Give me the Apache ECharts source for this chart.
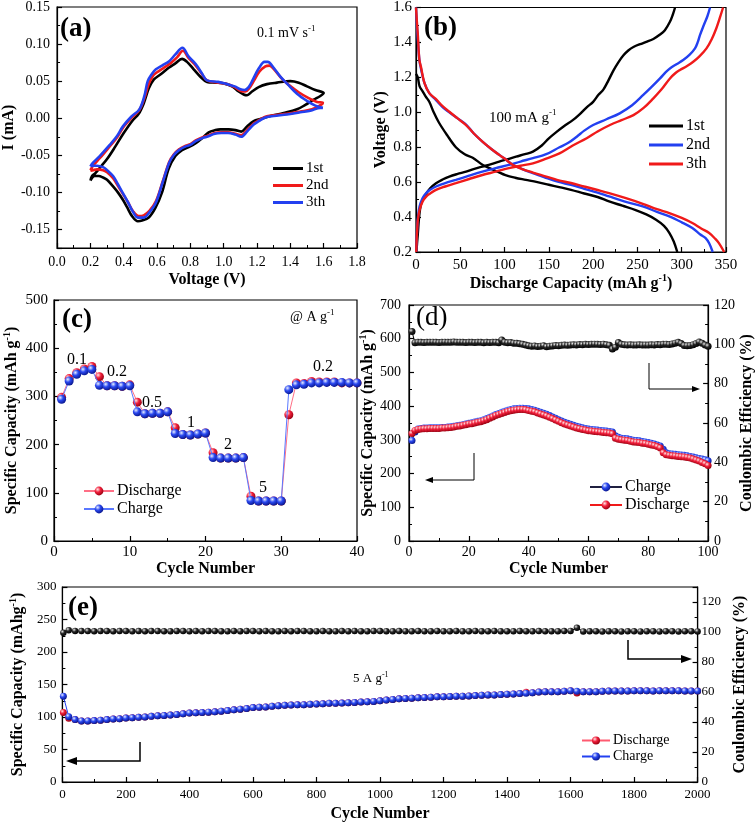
<!DOCTYPE html>
<html><head><meta charset="utf-8">
<script src="https://cdn.jsdelivr.net/npm/echarts/dist/echarts.min.js"></script>
<style>html,body{margin:0;padding:0;background:#fff}#c{width:756px;height:824px}</style>
</head><body><div id="c"></div><script>
// ---------- (a) CV curves [V, mA] ----------
const cv1st = [[0.20,-0.084],[0.21,-0.078],[0.23,-0.074],[0.26,-0.066],[0.30,-0.055],[0.35,-0.038],[0.40,-0.020],[0.45,-0.004],[0.49,0.006],[0.52,0.020],[0.55,0.040],[0.58,0.052],[0.62,0.059],[0.67,0.068],[0.71,0.074],[0.75,0.080],[0.78,0.076],[0.82,0.066],[0.86,0.056],[0.90,0.049],[0.95,0.048],[1.00,0.047],[1.05,0.043],[1.09,0.036],[1.12,0.032],[1.14,0.031],[1.17,0.036],[1.21,0.042],[1.26,0.046],[1.32,0.048],[1.40,0.050],[1.45,0.048],[1.50,0.043],[1.55,0.038],[1.60,0.034],
  [1.58,0.030],[1.54,0.025],[1.49,0.018],[1.44,0.012],[1.36,0.007],[1.28,0.003],[1.22,-0.001],[1.18,-0.004],[1.14,-0.011],[1.105,-0.018],[1.07,-0.016],[1.03,-0.015],[0.98,-0.015],[0.95,-0.016],[0.91,-0.019],[0.87,-0.027],[0.83,-0.034],[0.79,-0.039],[0.75,-0.043],[0.71,-0.051],[0.67,-0.068],[0.63,-0.100],[0.59,-0.121],[0.55,-0.134],[0.51,-0.138],[0.485,-0.139],[0.45,-0.132],[0.42,-0.120],[0.395,-0.110],[0.365,-0.100],[0.336,-0.092],[0.30,-0.083],[0.276,-0.080],[0.25,-0.078],[0.226,-0.078],[0.20,-0.084]];
const cv2nd = [[0.20,-0.070],[0.216,-0.064],[0.256,-0.054],[0.316,-0.038],[0.36,-0.026],[0.395,-0.013],[0.445,0.000],[0.494,0.011],[0.524,0.027],[0.55,0.046],[0.575,0.057],[0.60,0.062],[0.64,0.068],[0.68,0.074],[0.72,0.082],[0.755,0.091],[0.79,0.081],[0.832,0.071],[0.868,0.060],[0.90,0.051],[0.967,0.048],[1.02,0.046],[1.066,0.042],[1.10,0.037],[1.13,0.036],[1.155,0.041],[1.18,0.050],[1.215,0.063],[1.25,0.070],[1.274,0.071],[1.31,0.064],[1.35,0.053],[1.39,0.045],[1.45,0.035],[1.51,0.027],[1.56,0.022],[1.595,0.021],
  [1.59,0.019],[1.53,0.012],[1.46,0.009],[1.38,0.006],[1.30,0.004],[1.25,0.002],[1.21,-0.003],[1.18,-0.007],[1.14,-0.016],[1.105,-0.023],[1.07,-0.021],[1.026,-0.019],[0.986,-0.019],[0.946,-0.020],[0.90,-0.024],[0.881,-0.025],[0.832,-0.030],[0.80,-0.035],[0.772,-0.037],[0.732,-0.042],[0.70,-0.049],[0.673,-0.059],[0.633,-0.086],[0.593,-0.112],[0.554,-0.125],[0.52,-0.131],[0.49,-0.132],[0.455,-0.125],[0.425,-0.113],[0.395,-0.102],[0.365,-0.091],[0.336,-0.081],[0.30,-0.073],[0.276,-0.070],[0.24,-0.069],[0.216,-0.070],[0.20,-0.071]];
const cv3th = [[0.20,-0.065],[0.216,-0.060],[0.256,-0.051],[0.316,-0.036],[0.36,-0.024],[0.395,-0.011],[0.445,0.002],[0.494,0.012],[0.524,0.030],[0.544,0.050],[0.57,0.060],[0.593,0.066],[0.63,0.071],[0.673,0.077],[0.71,0.086],[0.752,0.095],[0.79,0.083],[0.832,0.073],[0.868,0.061],[0.90,0.051],[0.967,0.049],[1.02,0.046],[1.066,0.043],[1.10,0.039],[1.125,0.038],[1.15,0.042],[1.175,0.052],[1.21,0.067],[1.245,0.076],[1.264,0.076],[1.30,0.068],[1.34,0.056],[1.383,0.046],[1.44,0.033],[1.502,0.023],[1.55,0.017],[1.595,0.014],
  [1.58,0.014],[1.52,0.010],[1.46,0.008],[1.38,0.005],[1.30,0.003],[1.25,0.001],[1.21,-0.004],[1.18,-0.0085],[1.14,-0.018],[1.105,-0.025],[1.07,-0.022],[1.026,-0.020],[0.986,-0.020],[0.946,-0.021],[0.90,-0.025],[0.881,-0.026],[0.832,-0.031],[0.80,-0.036],[0.772,-0.038],[0.732,-0.043],[0.70,-0.050],[0.673,-0.060],[0.633,-0.087],[0.593,-0.114],[0.554,-0.127],[0.52,-0.134],[0.485,-0.134],[0.455,-0.126],[0.425,-0.113],[0.395,-0.101],[0.365,-0.089],[0.336,-0.078],[0.30,-0.070],[0.276,-0.066],[0.24,-0.064],[0.216,-0.064],[0.20,-0.065]];

// ---------- (b) charge/discharge profiles [mAh/g, V] ----------
const dis1st = [[0,1.22],[2,1.20],[4,1.15],[7.5,1.12],[11,1.09],[15,1.06],[20,1.00],[26,0.94],[35,0.87],[45,0.80],[55,0.76],[64,0.74],[75,0.70],[83,0.68],[92,0.66],[101,0.64],[112,0.625],[124,0.613],[137,0.60],[150,0.585],[163,0.57],[175,0.556],[190,0.535],[205,0.515],[218,0.49],[233,0.465],[248,0.44],[260,0.415],[271,0.385],[280,0.35],[286,0.31],[291,0.26],[295,0.2]];
const chg1st = [[0.5,0.2],[1.2,0.25],[2,0.30],[3.7,0.41],[6,0.48],[11,0.53],[16,0.565],[22.6,0.594],[30,0.615],[37.6,0.632],[47,0.647],[56.5,0.66],[65,0.675],[75,0.689],[85,0.703],[94,0.718],[104,0.732],[113,0.746],[123,0.76],[132,0.775],[142,0.81],[150,0.851],[158,0.885],[167,0.92],[177,0.955],[185,0.99],[193,1.03],[200,1.06],[206,1.10],[211.5,1.13],[217,1.18],[223,1.24],[229,1.29],[234,1.325],[240,1.355],[246,1.375],[253,1.39],[260,1.403],[268,1.42],[275.5,1.445],[281,1.47],[286.7,1.518],[290,1.56],[292.5,1.6]];
const dis2nd = [[0,1.6],[1,1.5],[2,1.42],[3.8,1.30],[5.6,1.25],[9.4,1.17],[15,1.11],[22.6,1.07],[30,1.03],[37.6,1.00],[47,0.965],[56.5,0.93],[65,0.88],[75,0.832],[85,0.79],[94,0.756],[100,0.735],[109,0.70],[120,0.675],[132,0.651],[145,0.628],[160,0.603],[175,0.584],[190,0.562],[205,0.54],[218,0.518],[235,0.49],[256,0.461],[272,0.43],[286,0.404],[300,0.37],[312,0.337],[321,0.30],[327,0.28],[331,0.25],[335,0.2]];
const chg2nd = [[0.3,0.2],[0.8,0.28],[1.5,0.35],[2,0.39],[4,0.46],[7.5,0.509],[12,0.54],[16,0.556],[22.6,0.575],[33,0.595],[45,0.613],[60,0.637],[75,0.66],[90,0.68],[105,0.699],[118,0.718],[132,0.737],[147,0.76],[162,0.80],[172,0.825],[181.5,0.86],[190,0.895],[200,0.927],[215,0.96],[230,0.994],[244,1.04],[256.6,1.099],[266,1.145],[275.5,1.194],[282,1.23],[286.7,1.251],[294,1.275],[301.7,1.299],[309,1.33],[315,1.366],[318,1.4],[320.6,1.442],[325,1.5],[329,1.55],[332,1.6]];
const dis3th = [[0,1.6],[1,1.52],[2,1.45],[3.8,1.30],[5.6,1.26],[9.4,1.17],[15,1.11],[22.6,1.075],[30,1.035],[37.6,1.003],[47,0.965],[56.5,0.927],[65,0.88],[75,0.832],[85,0.79],[94,0.756],[100,0.735],[109,0.70],[120,0.675],[132,0.655],[145,0.635],[160,0.612],[175,0.595],[190,0.575],[205,0.555],[218,0.537],[237,0.508],[256,0.476],[272,0.445],[286,0.423],[300,0.395],[312,0.366],[322,0.335],[331,0.309],[338,0.275],[342,0.251],[348,0.2]];
const chg3th = [[0.3,0.2],[0.8,0.28],[1.5,0.34],[2,0.38],[4,0.44],[7.5,0.49],[12,0.52],[16,0.535],[22.6,0.556],[33,0.575],[45,0.594],[60,0.618],[75,0.641],[90,0.66],[105,0.68],[118,0.694],[132,0.708],[147,0.735],[162,0.765],[177,0.81],[192.7,0.851],[205,0.89],[219,0.927],[232,0.955],[245.5,0.984],[257,1.025],[268,1.08],[277,1.13],[286.7,1.194],[293,1.225],[298,1.242],[306,1.265],[313,1.289],[320,1.32],[328,1.366],[334,1.42],[339,1.48],[343,1.54],[346.7,1.6]];

// ---------- (c) rate performance ----------
const cycC = [1,2,3,4,5,6,7,8,9,10,11,12,13,14,15,16,17,18,19,20,21,22,23,24,25,26,27,28,29,30,31,32,33,34,35,36,37,38,39,40];
const disC = [298,337,349,357,362,341,322,322,321,324,288,264,265,265,268,235,221,220,222,224,183,172,172,172,173,93,83,83,83,83,262,328,327,331,330,330,330,328,328,328];
const chgC = [294,332,346,353,356,323,322,322,321,322,268,264,265,265,268,223,221,220,222,224,173,172,172,172,173,84,83,83,83,83,314,324,325,328,328,329,329,329,328,328];
const rateLabels = ['0.1','0.2','0.5','1','2','5','0.2'];

// ---------- (d) cycling at 100 mA/g ----------
const cycD = [1,2,3,4,5,6,7,8,9,10,11,12,13,14,15,16,17,18,19,20,21,22,23,24,25,26,27,28,29,30,31,32,33,34,35,36,37,38,39,40,41,42,43,44,45,46,47,48,49,50,51,52,53,54,55,56,57,58,59,60,61,62,63,64,65,66,67,68,69,70,71,72,73,74,75,76,77,78,79,80,81,82,83,84,85,86,87,88,89,90,91,92,93,94,95,96,97,98,99,100];
const disD = [319,328,331,332,333,333,334,334,334,334,335,335,336,337,338,340,341,343,345,347,348,350,352,354,357,360,364,368,372,375,378,381,384,386,388,389,390,390,389,387,385,383,380,377,374,371,367,363,359,355,351,347,344,341,338,335,333,331,329,327,326,325,324,323,322,321,320,318,305,302,300,299,298,296,294,293,292,290,289,287,285,283,280,276,262,256,254,253,252,251,250,249,248,246,243,240,237,233,229,224];
const chgD = [298,323,332,334,335,335,336,336,336,336,337,337,338,339,340,342,343,345,347,349,351,353,355,357,360,363,367,371,375,378,382,385,388,390,392,393,394,394,393,392,390,388,385,382,379,376,372,368,364,360,356,352,349,346,343,340,338,336,334,332,331,330,329,328,327,326,325,323,312,308,305,304,303,301,299,298,297,295,294,292,290,288,285,282,272,262,259,258,257,256,255,254,253,251,249,247,245,243,241,238];
const ceD = [106.5,100.8,101.0,101.0,100.9,101.0,101.0,101.1,101.0,100.9,101.0,101.1,101.0,101.0,101.2,101.0,101.1,101.0,100.9,101.0,101.0,100.9,101.0,101.0,100.8,101.0,100.9,101.0,101.0,100.8,102.2,101.0,100.8,100.9,100.6,100.5,100.3,100.0,99.6,99.3,99.0,99.2,98.9,99.0,99.3,98.8,99.0,99.2,99.4,99.3,99.5,99.6,99.5,99.7,99.8,99.7,99.9,99.8,100.0,99.9,100.0,100.1,100.0,99.9,100.1,99.8,99.5,97.6,98.5,100.9,100.0,99.8,99.7,99.8,99.6,99.7,99.8,99.6,99.7,99.6,99.8,99.7,99.9,99.8,100.0,100.1,99.9,100.2,100.6,101.0,100.4,99.4,99.3,99.4,99.8,100.4,101.2,100.6,99.6,99.0];

// ---------- (e) long cycling at 5 A/g ----------
const cycE = [3,20,40,60,80,100,120,140,160,180,200,220,240,260,280,300,320,340,360,380,400,420,440,460,480,500,520,540,560,580,600,620,640,660,680,700,720,740,760,780,800,820,840,860,880,900,920,940,960,980,1000,1020,1040,1060,1080,1100,1120,1140,1160,1180,1200,1220,1240,1260,1280,1300,1320,1340,1360,1380,1400,1420,1440,1460,1480,1500,1520,1540,1560,1580,1600,1620,1640,1660,1680,1700,1720,1740,1760,1780,1800,1820,1840,1860,1880,1900,1920,1940,1960,1980,2000];
const chgE = [132,100.5,96,94,94,94.5,95,96,97,97.5,98.5,99,99.5,100,101,102,102.5,103,104,105,106,106.5,107,107.5,108,109,110,111,112,113,114.5,115,115.5,116.5,117.5,118,118.5,119,119,119.5,120,120.5,121,121,121.5,122,122.5,123,123.5,124,125,126,127,128,128.5,129,129.5,130,130.5,131,131,131.5,132,132,132.5,133,133.5,134,134,134.5,135,135.5,136,136.5,137.5,138.5,139,139,139,139.5,140.5,139.5,139,139,139,139.5,140,140,140,140,140.5,140.5,140.5,140,140.5,140.5,140.5,140.5,140,140,140];
const disE = [107,98,96,94,94,94.5,95,96,97,97.5,98.5,99,99.5,100,101,102,102.5,103,104,105,106,106.5,107,107.5,108,109,110,111,112,113,114.5,115,115.5,116.5,117.5,118,118.5,119,119,119.5,120,120.5,121,121,121.5,122,122.5,123,123.5,124,125,126,127,128,128.5,129,129.5,130,130.5,131,131,131.5,132,132,132.5,133,133.5,134,134,134.5,135,135.5,136,138,137.5,138.5,139,139,139,139.5,140.5,137,139,139,139,139.5,140,140,140,140,140.5,140.5,140.5,140,140.5,140.5,140.5,140.5,140,140,140];
const ceE = [99.5,101.2,100.7,100.6,100.6,100.5,100.6,100.6,100.5,100.6,
 100.6,100.5,100.6,100.5,100.6,100.6,100.5,100.5,100.6,100.6,
 100.5,100.6,100.5,100.6,100.6,100.5,100.5,100.6,100.5,100.6,
 100.6,100.5,100.6,100.5,100.5,100.6,100.5,100.6,100.6,100.5,
 100.5,100.6,100.5,100.5,100.6,100.5,100.6,100.5,100.5,100.6,
 100.6,100.5,100.5,100.6,100.5,100.5,100.6,100.5,100.5,100.6,
 100.5,100.5,100.6,100.5,100.5,100.6,100.5,100.5,100.6,100.5,
 100.5,100.5,100.6,100.5,100.5,100.6,100.5,100.5,100.5,100.6,
 100.7,102.8,100.4,100.5,100.5,100.4,100.5,100.5,100.4,100.5,
 100.5,100.4,100.5,100.5,100.4,100.5,100.5,100.4,100.5,100.5,
 100.4];

const zip = (xs, ys) => xs.map((x, i) => [x, ys[i]]);
const FONT = 'Liberation Serif';
const BLUE = '#2340f0', RED = '#f01a1a';

function ball(hi, mid, lo) {
  return {type: 'radial', x: 0.35, y: 0.32, r: 0.7, colorStops: [
    {offset: 0, color: hi}, {offset: 0.45, color: mid}, {offset: 1, color: lo}]};
}
const blueBall = ball('#e8eeff', '#2a48f0', '#0a1890');
const redBall = ball('#ffe6e6', '#f2203c', '#9a0010');
const blackBall = ball('#e6e6e6', '#262626', '#000000');

function nameStyle(fs) {
  return {color: '#000', fontFamily: FONT, fontWeight: 'bold', fontSize: fs,
    rich: {
      b: {color: '#000', fontFamily: FONT, fontWeight: 'bold', fontSize: fs, lineHeight: fs + 4},
      sup: {color: '#000', fontFamily: FONT, fontWeight: 'bold', fontSize: Math.round(fs * 0.62), lineHeight: Math.round(fs * 0.62), verticalAlign: 'top'}
    }};
}
function axis(o) {
  const a = {
    type: 'value', gridIndex: o.g, min: o.min, max: o.max, position: o.pos,
    axisLine: {show: true, onZero: false, lineStyle: {color: '#000', width: 1.2}},
    axisTick: {show: true, inside: true, length: 5, lineStyle: {color: '#000', width: 1.2}},
    minorTick: {show: true, splitNumber: 2, length: 3, lineStyle: {color: '#000', width: 1}},
    splitLine: {show: false}, minorSplitLine: {show: false},
    axisLabel: {color: '#000', fontFamily: FONT, fontSize: o.fs || 14, margin: o.margin == null ? 6 : o.margin,
      formatter: o.fmt || (v => String(Math.round(v)))},
    name: o.name, nameLocation: 'middle', nameGap: o.gap, nameTextStyle: nameStyle(o.nfs || 16)
  };
  if (o.showMin === false) a.axisLabel.showMinLabel = false;
  if (o.showMax === false) a.axisLabel.showMaxLabel = false;
  if (o.interval != null) a.interval = o.interval;
  if (o.splitNumber) a.splitNumber = o.splitNumber;
  return a;
}
function lineSeries(name, xi, yi, data, color, width, z) {
  return {type: 'line', name, xAxisIndex: xi, yAxisIndex: yi, data, symbol: 'none', showSymbol: false,
    smooth: 0.35, lineStyle: {color, width}, itemStyle: {color}, z: z || 2, silent: true};
}
function ballSeries(name, xi, yi, data, lineColor, lw, fill, size, z) {
  return {type: 'line', name, xAxisIndex: xi, yAxisIndex: yi, data, symbol: 'circle', symbolSize: size,
    showSymbol: true, lineStyle: {color: lineColor, width: lw}, itemStyle: {color: fill, borderWidth: 0}, z: z || 2, silent: true};
}
function legend(names, left, top, iw, ih, gap, fs, icon) {
  const l = {data: names, orient: 'vertical', left, top, itemWidth: iw, itemHeight: ih, itemGap: gap, padding: 0,
    selectedMode: false, formatter: n => n.slice(2),
    textStyle: {color: '#000', fontFamily: FONT, fontSize: fs, lineHeight: 15, padding: [0, 0, 0, -2]}};
  if (icon) l.icon = icon;
  return l;
}
function txt(x, y, text, fs, opts) {
  opts = opts || {};
  const s = {text, x: 0, y: 0, fill: '#000', fontFamily: FONT, fontSize: fs, fontWeight: opts.bold ? 'bold' : 'normal',
    align: opts.align || 'left', verticalAlign: 'middle',
    rich: {n: {fontFamily: FONT, fontSize: fs, lineHeight: fs + 4, fill: '#000'},
           s: {fontFamily: FONT, fontSize: Math.round(fs * 0.62), lineHeight: Math.round(fs * 0.62), verticalAlign: 'top', fill: '#000'}}};
  return {type: 'text', x, y, style: s, z: 100};
}
function arrow(pts, head, lw) {
  return [{type: 'polyline', shape: {points: pts}, style: {stroke: '#000', lineWidth: lw, fill: null}, z: 100},
          {type: 'polygon', shape: {points: head}, style: {fill: '#000'}, z: 100}];
}

const chart = echarts.init(document.getElementById('c'), null, {renderer: 'canvas'});
const grids = [
  {left: 54, top: 6, width: 303, height: 242},
  {left: 416, top: 7, width: 310, height: 245},
  {left: 54, top: 300, width: 303, height: 241},
  {left: 409, top: 305, width: 300, height: 236},
  {left: 56, top: 587, width: 652, height: 195}
].map(g => Object.assign({show: true, borderColor: '#000', borderWidth: 1.2, backgroundColor: 'transparent'}, g));

const option = {
  animation: false,
  backgroundColor: '#fff',
  grid: grids,
  xAxis: [
    axis({g: 0, min: 0, max: 1.8, interval: 0.2, fmt: v => v.toFixed(1), name: '{b|Voltage (V)}', gap: 22, margin: 7, fs: 14}),
    axis({g: 1, min: 0, max: 350, interval: 50, name: '{b|Discharge Capacity (mAh g}{sup|-1}{b|)}', gap: 21, margin: 6, fs: 15}),
    axis({g: 2, min: 0, max: 40, interval: 10, name: '{b|Cycle Number}', gap: 18, margin: 4, fs: 15}),
    axis({g: 3, min: 0, max: 100, interval: 20, name: '{b|Cycle Number}', gap: 18, margin: 4, fs: 14}),
    axis({g: 4, min: 0, max: 2000, interval: 200, name: '{b|Cycle Number}', gap: 22, margin: 6, fs: 13})
  ],
  yAxis: [
    axis({g: 0, min: -0.175, max: 0.15, splitNumber: 6, fmt: v => v.toFixed(2), showMin: false, name: '{b|I (mA)}', gap: 33, margin: 7, fs: 14}),
    axis({g: 1, min: 0.2, max: 1.6, interval: 0.2, fmt: v => v.toFixed(1), name: '{b|Voltage (V)}', gap: 25, margin: 4, fs: 15}),
    axis({g: 2, min: 0, max: 500, interval: 100, name: '{b|Specific Capacity (mAh g}{sup|-1}{b|)}', gap: 32, margin: 6, fs: 15}),
    axis({g: 3, min: 0, max: 700, interval: 100, name: '{b|Specific Capacity (mAh g}{sup|-1}{b|)}', gap: 29, margin: 8, fs: 14}),
    axis({g: 3, min: 0, max: 120, interval: 20, pos: 'right', name: '{b|Coulombic Efficiency (%)}', gap: 28, margin: 6, fs: 14}),
    axis({g: 4, min: 0, max: 300, interval: 50, name: '{b|Specific Capacity (mAhg}{sup|-1}{b|)}', gap: 33, margin: 6, fs: 13}),
    axis({g: 4, min: 0, max: 130, interval: 20, pos: 'right', showMax: false, name: '{b|Coulombic Efficiency (%)}', gap: 30, margin: 4, fs: 13})
  ],
  legend: [
    legend(['a:1st', 'a:2nd', 'a:3th'], 273, 161, 30, 3, 2, 15, 'rect'),
    legend(['b:1st', 'b:2nd', 'b:3th'], 649, 118, 34, 3, 3, 16, 'rect'),
    legend(['c:Discharge', 'c:Charge'], 83, 483, 30, 11, 2, 16),
    legend(['d:Charge', 'd:Discharge'], 589, 479, 32, 11, 2, 16),
    legend(['e:Discharge', 'e:Charge'], 581, 733, 28, 10, 1, 14)
  ],
  series: [
    lineSeries('a:1st', 0, 0, cv1st, '#000', 2.6, 2),
    lineSeries('a:2nd', 0, 0, cv2nd, RED, 2.6, 3),
    lineSeries('a:3th', 0, 0, cv3th, BLUE, 2.6, 4),
    lineSeries('b:1st', 1, 1, dis1st, '#000', 2.4, 2),
    lineSeries('b:1st', 1, 1, chg1st, '#000', 2.4, 2),
    lineSeries('b:2nd', 1, 1, dis2nd, BLUE, 2.4, 3),
    lineSeries('b:2nd', 1, 1, chg2nd, BLUE, 2.4, 3),
    lineSeries('b:3th', 1, 1, dis3th, RED, 2.4, 4),
    lineSeries('b:3th', 1, 1, chg3th, RED, 2.4, 4),
    ballSeries('c:Discharge', 2, 2, zip(cycC, disC), '#ff6f86', 1, redBall, 9, 2),
    ballSeries('c:Charge', 2, 2, zip(cycC, chgC), '#5a78ff', 1, blueBall, 9, 3),
    ballSeries('d:Charge', 3, 3, zip(cycD, chgD), '#202040', 1, blueBall, 7, 2),
    ballSeries('d:Discharge', 3, 3, zip(cycD, disD), RED, 1, redBall, 7, 3),
    ballSeries('d:ce', 3, 4, zip(cycD, ceD), '#000', 1, blackBall, 7, 3),
    ballSeries('e:Discharge', 4, 5, zip(cycE, disE), '#ff5a70', 1, redBall, 7, 2),
    ballSeries('e:Charge', 4, 5, zip(cycE, chgE), BLUE, 1, blueBall, 7, 3),
    ballSeries('e:ce', 4, 6, zip(cycE, ceE), '#000', 1, blackBall, 6.5, 3)
  ],
  graphic: [
    txt(60, 29, '(a)', 27, {bold: true}),
    txt(424, 28, '(b)', 27, {bold: true}),
    txt(62, 320, '(c)', 27, {bold: true}),
    txt(416, 318, '(d)', 27, {bold: false}),
    txt(68, 608, '(e)', 27, {bold: true}),
    txt(257, 33, '{n|0.1 mV s}{s|-1}', 14),
    txt(489, 118, '{n|100 mA g}{s|-1}', 15),
    txt(290, 317, '{n|@ A g}{s|-1}', 14),
    txt(353, 679, '{n|5 A g}{s|-1}', 13),
    txt(77, 360, rateLabels[0], 16, {align: 'center'}),
    txt(117, 372, rateLabels[1], 16, {align: 'center'}),
    txt(152, 403, rateLabels[2], 16, {align: 'center'}),
    txt(191, 423, rateLabels[3], 16, {align: 'center'}),
    txt(228, 445, rateLabels[4], 16, {align: 'center'}),
    txt(263, 488, rateLabels[5], 16, {align: 'center'}),
    txt(323, 367, rateLabels[6], 16, {align: 'center'}),
    ...arrow([[474, 453], [474, 480], [430, 480]], [[425, 480], [433, 477], [433, 483]], 1),
    ...arrow([[649, 363], [649, 389], [694, 389]], [[700, 389], [692, 386], [692, 392]], 1),
    ...arrow([[140, 742], [140, 761], [74, 761]], [[66, 761], [77, 757], [77, 765]], 1.5),
    ...arrow([[628, 640], [628, 659], [684, 659]], [[692, 659], [681, 655], [681, 663]], 1.5)
  ]
};
chart.setOption(option);
</script></body></html>
